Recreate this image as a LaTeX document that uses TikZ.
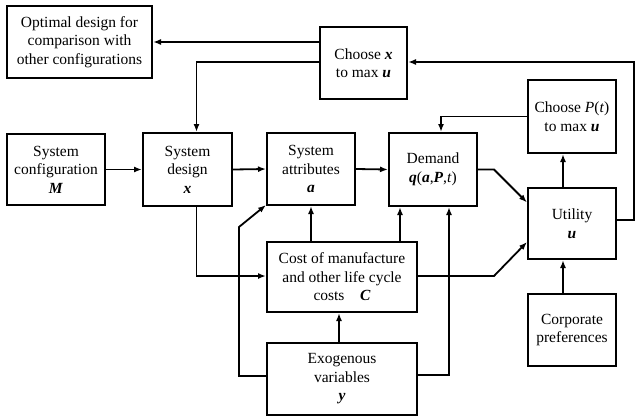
\documentclass[tikz,border=0pt]{standalone}
\usepackage{fontspec}
\setmainfont{Liberation Serif}
\usetikzlibrary{arrows.meta,calc}
\newcommand{\bi}[1]{\textbf{\textit{#1}}}
\begin{document}
\begin{tikzpicture}[x=1pt,y=-1pt,
  box/.style={draw, line width=2pt, align=center, inner sep=0pt,
    font=\fontsize{15.5}{18.5}\selectfont},
  conn/.style={line width=1.8pt, -{Latex[length=8pt,width=6pt]}}]
\useasboundingbox (0,0) rectangle (640,416);
\node[box, minimum width=145pt, minimum height=72pt] (opt) at (79.5,42) {Optimal design for\\comparison with\\other configurations};
\node[box, minimum width=87pt, minimum height=72pt] (chx) at (363.5,63) {Choose \bi{x}\\to max \bi{u}};
\node[box, minimum width=98pt, minimum height=71pt] (cfg) at (56,169.5) {System\\configuration\\\bi{M}};
\node[box, minimum width=89pt, minimum height=73pt] (des) at (187.5,169.5) {System\\design\\\bi{x}};
\node[box, minimum width=88pt, minimum height=72pt] (att) at (311,169) {System\\attributes\\\bi{a}};
\node[box, minimum width=88pt, minimum height=73pt] (dem) at (433,169.5) {Demand\\\bi{q}(\bi{a},\bi{P},\textit{t})};
\node[box, minimum width=88pt, minimum height=73pt] (chp) at (572,116.5) {Choose \textit{P}(\textit{t})\\to max \bi{u}};
\node[box, minimum width=88pt, minimum height=71pt] (uti) at (572,223.5) {Utility\\\bi{u}};
\node[box, minimum width=150pt, minimum height=70pt] (cost) at (342,277) {Cost of manufacture\\and other life cycle\\costs\quad \bi{C}};
\node[box, minimum width=150pt, minimum height=72pt] (exo) at (342,379) {Exogenous\\variables\\\bi{y}};
\node[box, minimum width=88pt, minimum height=72pt] (cor) at (572,330) {Corporate\\preferences};

\coordinate (d1) at ([xshift=-33pt]dem.south);
\coordinate (d2) at ([xshift=16pt]dem.south);
\coordinate (dx) at ([xshift=9pt]des.north);
\coordinate (dxs) at ([xshift=9pt]des.south);
\coordinate (dp) at ([xshift=8pt]dem.north);

\draw[conn] (opt.east -| chx.west) -- (opt.east);
\draw[conn] ([yshift=1pt]chx.west) -| (dx);
\draw[conn] ([yshift=3.5pt]uti.east) -- ++(17,0) |- ([yshift=1pt]chx.east);
\draw[conn] (chp.west) -| (dp);
\draw[conn] ([xshift=-9pt]uti.north) -- ([xshift=-9pt]chp.south);
\draw[conn] ([xshift=-9pt]cor.north) -- ([xshift=-9pt]uti.south);
\draw[conn] (cfg.east) -- (des.west);
\draw[conn] (des.east) -- (att.west);
\draw[conn] (att.east) -- (dem.west);
\draw[conn] (dem.east) -- ++(16,0) -- ([yshift=21pt]uti.west);
\draw[conn] ([yshift=1pt]cost.east) -- ++(76,0) -- ([yshift=-18.5pt]uti.west);
\draw[conn] (dxs) |- ([yshift=1pt]cost.west);
\draw[conn] (cost.north -| att.south) -- (att.south);
\draw[conn] (d1 |- cost.north) -- (d1);
\draw[conn] ([yshift=4pt]exo.east) -| (d2);
\draw[conn] ([yshift=3pt]exo.west) -- ++(-27,0) -- ++(0,-149) -- ([yshift=1pt]att.south west);
\draw[conn] ([xshift=-3pt]exo.north) -- ([xshift=-3pt]cost.south);
\end{tikzpicture}
\end{document}
